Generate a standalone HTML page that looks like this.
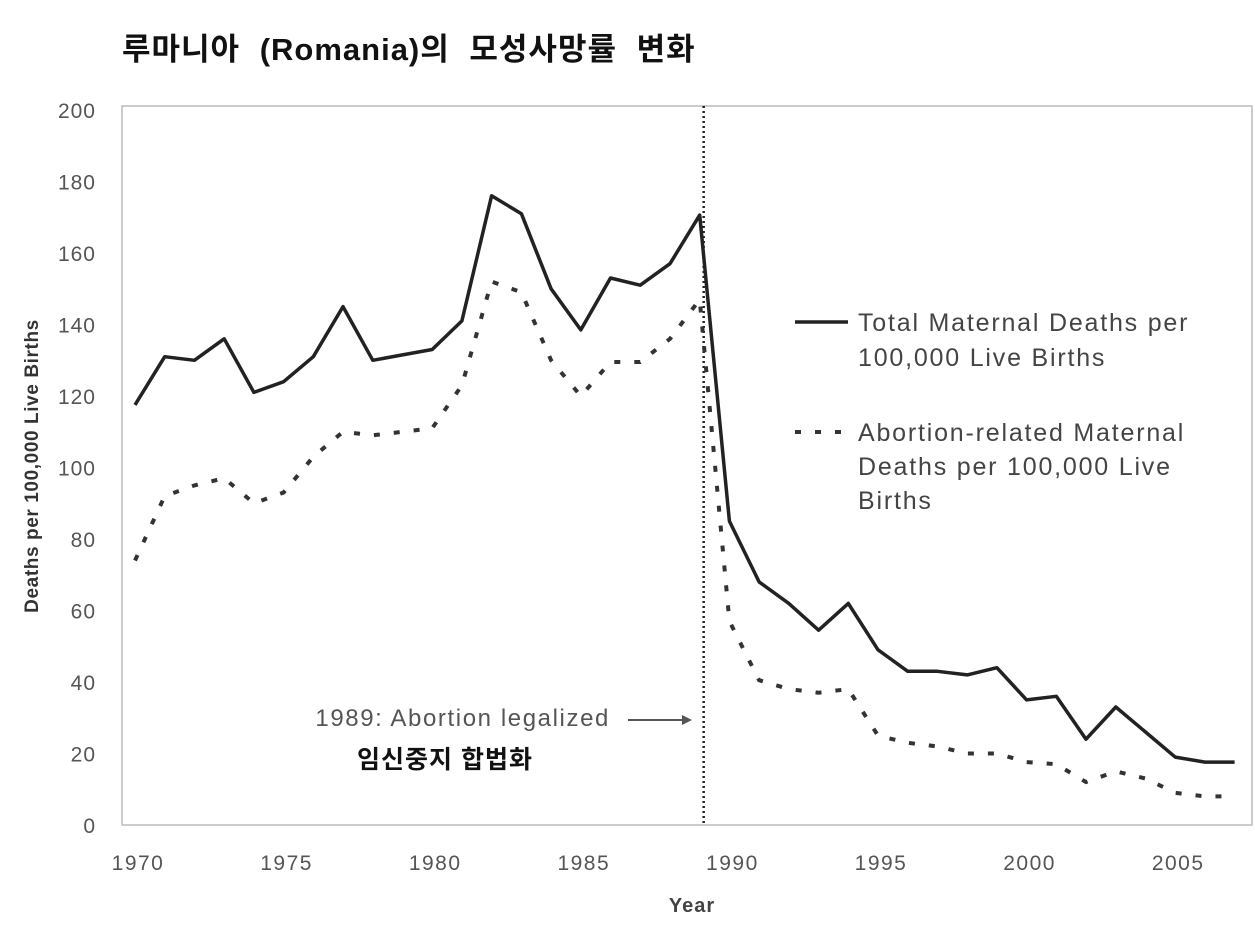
<!DOCTYPE html>
<html><head><meta charset="utf-8"><style>
body{margin:0;background:#fff;width:1255px;height:938px;overflow:hidden}
svg{display:block}
text{font-family:"Liberation Sans","Noto Sans CJK KR",sans-serif}
</style></head><body>
<svg id="chart" width="1255" height="938">
<text x="122" y="60" font-size="31" font-weight="bold" fill="#111" word-spacing="10" letter-spacing="1">루마니아 (Romania)의 모성사망률 변화</text>
<rect x="122" y="106" width="1130" height="719" fill="none" stroke="#bbb" stroke-width="1.5"/>
<g id="yticks"></g><g id="xticks"></g>
<text x="0" y="0" transform="translate(38,466) rotate(-90)" text-anchor="middle" font-size="19" font-weight="bold" fill="#333" letter-spacing="0.6">Deaths per 100,000 Live Births</text>
<text x="692" y="912" text-anchor="middle" font-size="20" font-weight="bold" fill="#444" letter-spacing="1">Year</text>
<line id="legal-line" y1="106" y2="825" stroke="#222" stroke-width="2.5" stroke-dasharray="2,3"/>
<text x="610" y="726" text-anchor="end" font-size="24" fill="#555" letter-spacing="1.6">1989: Abortion legalized</text>
<line x1="628" y1="720" x2="685" y2="720" stroke="#555" stroke-width="2"/>
<polygon points="692,720 682,715 682,725" fill="#555"/>
<text x="445" y="768" text-anchor="middle" font-size="25" font-weight="bold" fill="#111" letter-spacing="1">임신중지 합법화</text>
<path id="total-line" fill="none" stroke="#222" stroke-width="3.5" stroke-linejoin="round"/>
<path id="abort-line" fill="none" stroke="#333" stroke-width="4" stroke-dasharray="6,14"/>
<line x1="795" y1="322" x2="848" y2="322" stroke="#222" stroke-width="3.5"/>
<text font-size="25" fill="#444" letter-spacing="1.8"><tspan x="858" y="331">Total Maternal Deaths per</tspan><tspan x="858" y="366">100,000 Live Births</tspan></text>
<line x1="795" y1="432" x2="848" y2="432" stroke="#333" stroke-width="4" stroke-dasharray="6,14"/>
<text font-size="25" fill="#444" letter-spacing="1.8"><tspan x="858" y="441">Abortion-related Maternal</tspan><tspan x="858" y="475">Deaths per 100,000 Live</tspan><tspan x="858" y="509">Births</tspan></text>
</svg>
<script>
const years=[1970,1971,1972,1973,1974,1975,1976,1977,1978,1979,1980,1981,1982,1983,1984,1985,1986,1987,1988,1989,1990,1991,1992,1993,1994,1995,1996,1997,1998,1999,2000,2001,2002,2003,2004,2005,2006,2007];
const totalDeaths=[117.5,131,130,136,121,124,131,145,130,131.5,133,141,176,171,150,138.5,153,151,157,170.6,85,68,62,54.5,62,49,43,43,42,44,35,36,24,33,26,19,17.6,17.6];
const abortionDeaths=[74,92,95,97,90,93,103,110,109,110,111,123,152,149,130,120,129.5,129.5,136,147,57,40.5,38,37,38,25,23,22,20,20,17.6,17,12,15,13,9,8,8];
const yTicks=[0,20,40,60,80,100,120,140,160,180,200];
const xTicks=[1970,1975,1980,1985,1990,1995,2000,2005];
const legalYear=1989;
const X=y=>135+(y-1970)*29.72;
const Y=v=>825-v*3.575;
const NS="http://www.w3.org/2000/svg";
const yg=document.getElementById('yticks'),xg=document.getElementById('xticks');
yTicks.forEach(v=>{const t=document.createElementNS(NS,'text');t.setAttribute('x',96);t.setAttribute('y',Y(v)+8);t.setAttribute('text-anchor','end');t.setAttribute('font-size','21');t.setAttribute('letter-spacing','1');t.setAttribute('fill','#555');t.textContent=v;


yg.appendChild(t);});
xTicks.forEach(v=>{const t=document.createElementNS(NS,'text');t.setAttribute('x',X(v)+3);t.setAttribute('y',870);t.setAttribute('text-anchor','middle');t.setAttribute('font-size','21');t.setAttribute('letter-spacing','1.5');t.setAttribute('fill','#555');t.textContent=v;


xg.appendChild(t);});
const path=a=>a.map((v,i)=>(i?'L':'M')+X(years[i]).toFixed(1)+','+Y(v).toFixed(1)).join('');
document.getElementById('total-line').setAttribute('d',path(totalDeaths));
document.getElementById('abort-line').setAttribute('d',path(abortionDeaths));
const ll=document.getElementById('legal-line');ll.setAttribute('x1',X(legalYear)+4);ll.setAttribute('x2',X(legalYear)+4);
</script>
</body></html>
